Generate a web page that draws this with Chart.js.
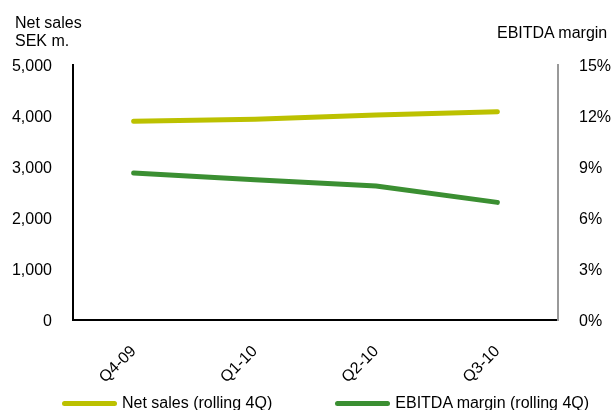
<!DOCTYPE html>
<html>
<head>
<meta charset="utf-8">
<script src="https://cdn.jsdelivr.net/npm/chart.js@4"></script>
<style>
	html, body { margin: 0; padding: 0; background: #fff; overflow: hidden; }
	#wrap { position: relative; width: 614px; height: 410px; overflow: hidden; }
	.txt { position: absolute; font: 16px "Liberation Sans", Arial, sans-serif; line-height: 18px; color: #000; white-space: nowrap; }
	#legend { display: flex; align-items: center; left: 62px; top: 394px; }
	#legend .item { display: flex; align-items: center; margin-right: 63px; }
	#legend .box { width: 55px; height: 5px; border-radius: 3px; margin-right: 5px; }
</style>
</head>
<body>
<div id="wrap">
	<canvas id="lineChart" width="614" height="410"></canvas>
	<div class="txt" style="left:15px; top:14px;">Net sales<br>SEK m.</div>
	<div class="txt" style="left:497px; top:24px;">EBITDA margin</div>
	<div class="txt" id="legend"></div>
</div>
<script>
	var quarters = ['Q4-09', 'Q1-10', 'Q2-10', 'Q3-10'];
	var netSales = [3895, 3935, 4020, 4085];
	var ebitdaMargin = [8.65, 8.25, 7.88, 6.92];
	var salesTicks = [0, 1000, 2000, 3000, 4000, 5000];
	var marginTicks = [0, 3, 6, 9, 12, 15];

	Chart.defaults.font.family = '"Liberation Sans", Arial, sans-serif';
	Chart.defaults.font.size = 16;
	Chart.defaults.color = '#000';

	/* Chartjs (#lineChart) */
	var ctx = document.getElementById('lineChart').getContext('2d');
	var myChart = new Chart(ctx, {
		type: 'line',
		data: {
			labels: quarters,
			datasets: [{
				label: 'Net sales (rolling 4Q)',
				data: netSales,
				yAxisID: 'ySales',
				borderColor: '#bcc100',
				backgroundColor: '#bcc100',
				borderWidth: 5,
				borderCapStyle: 'round',
				pointRadius: 0,
				tension: 0
			}, {
				label: 'EBITDA margin (rolling 4Q)',
				data: ebitdaMargin,
				yAxisID: 'yMargin',
				borderColor: '#3b8f32',
				backgroundColor: '#3b8f32',
				borderWidth: 5,
				borderCapStyle: 'round',
				pointRadius: 0,
				tension: 0
			}]
		},
		options: {
			responsive: false,
			animation: false,
			layout: {
				padding: { left: 0, right: 0, top: 65, bottom: 0 }
			},
			scales: {
				x: {
					offset: true,
					afterFit: function (scale) { scale.height = 90; },
					grid: { display: false, drawTicks: false },
					border: { display: true, color: '#000', width: 2 },
					ticks: { maxRotation: 45, minRotation: 45, padding: 22, autoSkip: false }
				},
				ySales: {
					position: 'left',
					min: 0,
					max: 5000,
					afterBuildTicks: function (scale) {
						scale.ticks = salesTicks.map(function (v) { return { value: v }; });
					},
					afterFit: function (scale) { scale.width = 73; },
					grid: { display: false, drawTicks: false },
					border: { display: true, color: '#000', width: 2 },
					ticks: {
						padding: 21,
						labelOffset: 2,
						autoSkip: false,
						callback: function (v) { return v.toLocaleString('en-US'); }
					}
				},
				yMargin: {
					position: 'right',
					min: 0,
					max: 15,
					afterBuildTicks: function (scale) {
						scale.ticks = marginTicks.map(function (v) { return { value: v }; });
					},
					afterFit: function (scale) { scale.width = 56; },
					grid: { display: false, drawTicks: false },
					border: { display: true, color: '#999', width: 2 },
					ticks: {
						padding: 21,
						labelOffset: 2,
						autoSkip: false,
						callback: function (v) { return v + '%'; }
					}
				}
			},
			plugins: {
				legend: { display: false },
				tooltip: { enabled: false }
			}
		}
	});
	/* Chartjs (#lineChart) closed */

	/* Legend from datasets */
	var legend = document.getElementById('legend');
	myChart.data.datasets.forEach(function (ds) {
		var item = document.createElement('div');
		item.className = 'item';
		var box = document.createElement('span');
		box.className = 'box';
		box.style.background = ds.borderColor;
		var label = document.createElement('span');
		label.textContent = ds.label;
		item.appendChild(box);
		item.appendChild(label);
		legend.appendChild(item);
	});
</script>
</body>
</html>
